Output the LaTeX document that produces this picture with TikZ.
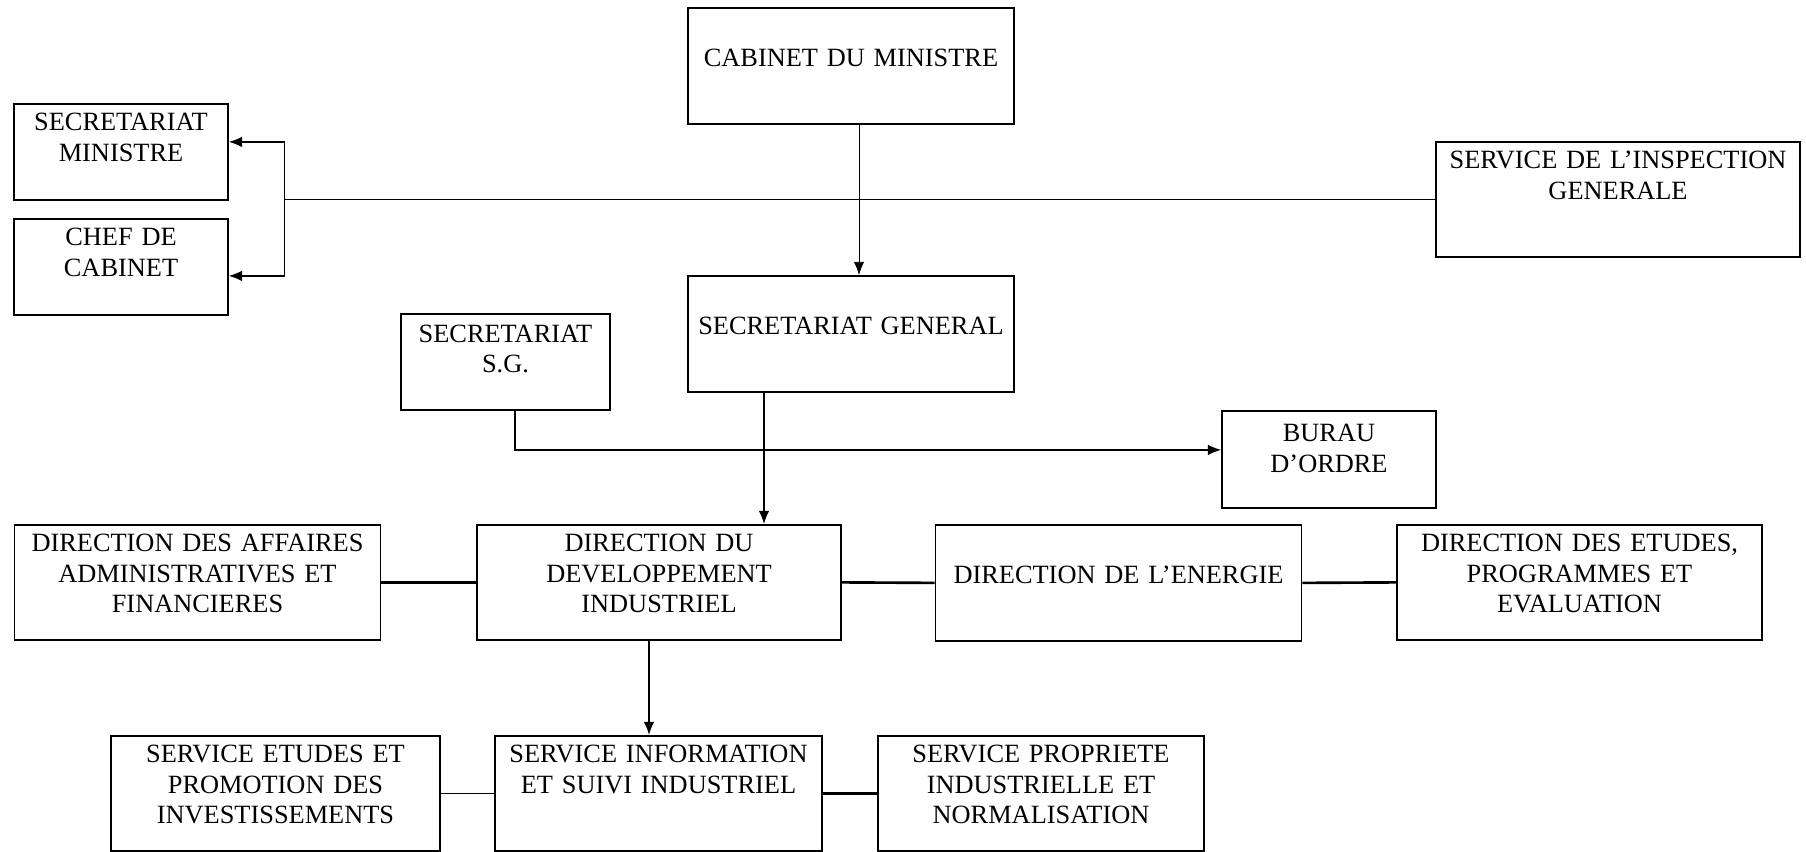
\documentclass[tikz,border=0pt]{standalone}
\usepackage{fontspec}
\setmainfont{Liberation Serif}
\usetikzlibrary{arrows.meta}

\tikzset{
  unit/.style={draw, line width=1pt, anchor=north, align=center,
    inner xsep=0pt, inner ysep=0pt, font=\fontsize{15}{17.3}\selectfont},
  lowbox/.style={text height=0.54cm, text depth=1.38cm},
  highbox/.style={text height=0.54cm, text depth=1.76cm},
  midtext/.style={text height=1.17cm, text depth=1.15cm},
  link/.style={line width=#1},
  feed/.style={-{Latex[length=7.5pt,width=6pt]}, line width=#1},
}

\begin{document}
\begin{tikzpicture}
 \useasboundingbox (0,0) rectangle (36.12,-17.02);

 % top level
 \node[unit, midtext, text width=6.52cm] (cab) at (17.02,-0.14) {CABINET DU MINISTRE};
 \node[unit, lowbox, text width=4.28cm] (secmin) at (2.42,-2.06) {SECRETARIAT\\MINISTRE};
 \node[unit, lowbox, text width=4.28cm] (chef) at (2.42,-4.36) {CHEF DE\\CABINET};
 \node[unit, highbox, text width=7.28cm] (insp) at (32.36,-2.82) {SERVICE DE L’INSPECTION\\GENERALE};

 % secretariat general
 \node[unit, midtext, text width=6.52cm] (sg) at (17.02,-5.5) {SECRETARIAT GENERAL};
 \node[unit, lowbox, text width=4.18cm, text height=0.57cm, text depth=1.35cm] (secsg) at (10.11,-6.26) {SECRETARIAT\\S.G.};
 \node[unit, lowbox, text width=4.28cm, text height=0.62cm, text depth=1.32cm] (bureau) at (26.58,-8.2) {BURAU\\D’ORDRE};

 % directions
 \node[unit, highbox, text width=7.32cm] (daaf) at (3.95,-10.48) {DIRECTION DES AFFAIRES\\ADMINISTRATIVES ET\\FINANCIERES};
 \node[unit, highbox, text width=7.29cm] (ddi) at (13.18,-10.48) {DIRECTION DU\\DEVELOPPEMENT\\INDUSTRIEL};
 \node[unit, midtext, text width=7.32cm] (energie) at (22.37,-10.48) {DIRECTION DE L’ENERGIE};
 \node[unit, highbox, text width=7.30cm] (etudes) at (31.59,-10.48) {DIRECTION DES ETUDES,\\PROGRAMMES ET\\EVALUATION};

 % services
 \node[unit, highbox, text width=6.58cm] (setudes) at (5.51,-14.7) {SERVICE ETUDES ET\\PROMOTION DES\\INVESTISSEMENTS};
 \node[unit, highbox, text width=6.54cm] (sinfo) at (13.17,-14.7) {SERVICE INFORMATION\\ET SUIVI INDUSTRIEL};
 \node[unit, highbox, text width=6.52cm] (spropr) at (20.82,-14.7) {SERVICE PROPRIETE\\INDUSTRIELLE ET\\NORMALISATION};

 % connectors
 \draw[feed=0.5pt] ([xshift=1.6mm]cab.south) -- ([xshift=1.6mm]sg.north);
 \coordinate (hub) at (insp.west -| 5.69,0);
 \draw[link=0.7pt] (insp.west) -- (hub);
 \draw[feed=0.7pt] (hub) |- ([yshift=2mm]secmin.east);
 \draw[feed=0.7pt] (hub) |- ([yshift=-1.8mm]chef.east);

 \draw[feed=0.8pt] ([xshift=1.9mm]secsg.south) |- ([yshift=1.9mm]bureau.west);
 \draw[feed=0.8pt] ([xshift=-1.74cm]sg.south) -- ([xshift=-1.74cm]sg.south |- ddi.north);

 \draw[link=1.5pt] (daaf.east) -- (ddi.west);
 \draw[link=1.5pt] (ddi.east) -- (energie.west);
 \draw[link=1.5pt] (energie.east) -- (etudes.west);

 \draw[feed=0.9pt] ([xshift=-2mm]ddi.south) -- ([xshift=-2mm]ddi.south |- sinfo.north);
 \draw[link=1pt] (setudes.east) -- (sinfo.west);
 \draw[link=1.5pt] (sinfo.east) -- (spropr.west);

\end{tikzpicture}
\end{document}
